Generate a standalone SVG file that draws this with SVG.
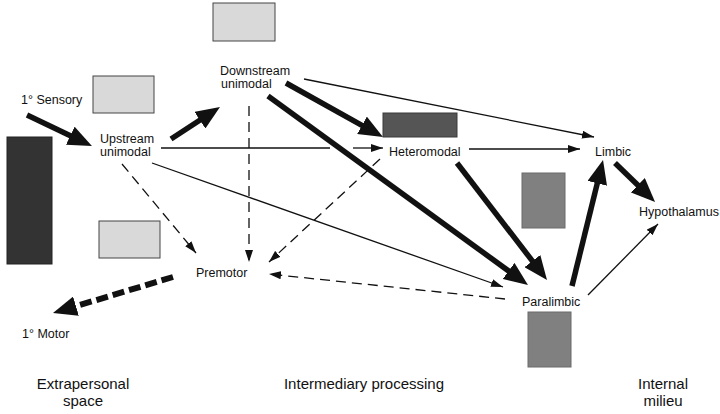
<svg xmlns="http://www.w3.org/2000/svg" width="720" height="414" viewBox="0 0 720 414">
<style>
text{font-family:"Liberation Sans",Arial,Helvetica,sans-serif;fill:#111}
.lbl{font-size:12.5px}
.big{font-size:15px;text-anchor:middle}
.thick{stroke:#111;stroke-width:5.5;fill:none;marker-end:url(#bigHead)}
.thin{stroke:#111;stroke-width:1.3;fill:none;marker-end:url(#smallHead)}
.dash{stroke:#111;stroke-width:1.3;fill:none;stroke-dasharray:10,6;marker-end:url(#smallHead)}
.thickdash{stroke:#111;stroke-width:6;fill:none;stroke-dasharray:12,5;marker-end:url(#bigHead)}
.light{fill:#d9d9d9;stroke:#444;stroke-width:1}
.dark{fill:#333;stroke:#222;stroke-width:1}
.darkmid{fill:#555;stroke:#3a3a3a;stroke-width:1}
.mid{fill:#808080;stroke:#6a6a6a;stroke-width:1}
</style>
<defs>
<marker id="bigHead" markerUnits="userSpaceOnUse" markerWidth="24" markerHeight="20" refX="3" refY="10" orient="auto">
<path d="M0,0 L24,10 L0,20 z" fill="#111"/>
</marker>
<marker id="smallHead" markerUnits="userSpaceOnUse" markerWidth="12" markerHeight="8" refX="12" refY="4" orient="auto">
<path d="M0,0 L12,4 L0,8 z" fill="#111"/>
</marker>
</defs>
<rect width="720" height="414" fill="#fff"/>
<g id="decor">
<rect class="light" x="213" y="3" width="62" height="38"/>
<rect class="light" x="93" y="76" width="61" height="37"/>
<rect class="dark" x="7" y="137" width="45" height="127"/>
<rect class="light" x="99" y="221" width="61" height="37"/>
<rect class="darkmid" x="383" y="113" width="74" height="24"/>
<rect class="mid" x="522" y="173" width="43" height="55"/>
<rect class="mid" x="528" y="312" width="43" height="55"/>
</g>
<g id="connectors">
<path class="thick" d="M27,115 L73,137"/>
<path class="thick" d="M171,139 L202.4,118.5"/>
<path class="thick" d="M286,83 L364.6,126.8"/>
<path class="thick" d="M268,96 L511,272.7"/>
<path class="thick" d="M457,163 L534.2,263.4"/>
<path class="thick" d="M572,286 L598,180.4"/>
<path class="thick" d="M615,163 L640,187.3"/>
<path class="thickdash" d="M173,277 L73.1,307"/>
<path d="M161,148 L330,148" stroke="#111" stroke-width="1.3" fill="none"/>
<path class="thin" d="M353,148 L383,148"/>
<path class="thin" d="M469,149 L580,149"/>
<path class="thin" d="M304,79 L594,137"/>
<path class="thin" d="M152,163 L503,287"/>
<path class="thin" d="M588,295 L658,224"/>
<path class="dash" d="M122,164 L196,253"/>
<path class="dash" d="M249,106 L249,262"/>
<path class="dash" d="M380,159 L269,262"/>
<path class="dash" d="M505,299 L269,274"/>
</g>
<g id="sensory"><text class="lbl" x="21" y="104">1° Sensory</text></g>
<g id="upstream"><text class="lbl" x="100" y="143">Upstream</text><text class="lbl" x="100" y="156">unimodal</text></g>
<g id="downstream"><text class="lbl" x="220" y="75">Downstream</text><text class="lbl" x="221" y="88">unimodal</text></g>
<g id="heteromodal"><text class="lbl" x="389" y="156">Heteromodal</text></g>
<g id="limbic"><text class="lbl" x="595" y="156">Limbic</text></g>
<g id="hypothalamus"><text class="lbl" x="639" y="216">Hypothalamus</text></g>
<g id="premotor"><text class="lbl" x="196" y="277">Premotor</text></g>
<g id="paralimbic"><text class="lbl" x="522" y="306">Paralimbic</text></g>
<g id="motor"><text class="lbl" x="22" y="338">1° Motor</text></g>
<g id="captions">
<text class="big" x="83" y="389">Extrapersonal</text>
<text class="big" x="83" y="406">space</text>
<text class="big" x="364" y="389">Intermediary processing</text>
<text class="big" x="663" y="389">Internal</text>
<text class="big" x="663" y="406">milieu</text>
</g>
</svg>
